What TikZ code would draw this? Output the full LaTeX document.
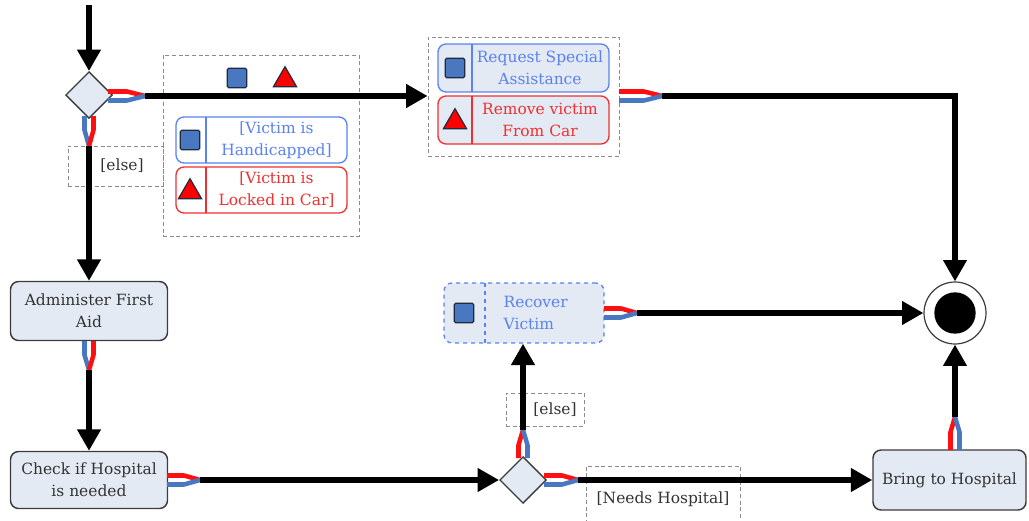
\documentclass[tikz,border=0pt]{standalone}
\usepackage{fontspec}
\setmainfont{DejaVu Serif}
\usetikzlibrary{arrows.meta,shapes.geometric,calc}

\definecolor{actfill}{HTML}{E4EAF4}
\definecolor{actline}{HTML}{3C3C3C}
\definecolor{flowblue}{HTML}{4A78C0}
\definecolor{flowred}{HTML}{FF1010}
\definecolor{guardblue}{HTML}{5A82F0}
\definecolor{guardred}{HTML}{F03030}
\definecolor{dashgray}{HTML}{8C8C8C}
\definecolor{txt}{HTML}{333333}
\definecolor{iconline}{HTML}{1E2A40}

\tikzset{
  txtfont/.style={font=\fontsize{11.6}{16.5}\selectfont},
  act/.style={draw=actline, fill=actfill, line width=1.1pt, rounded corners=6pt,
    txtfont, text=txt, align=center, inner sep=0pt},
  decision/.style={diamond, aspect=1, draw=actline, fill=actfill, line width=1pt,
    minimum size=35pt, inner sep=0pt},
  final/.style={circle, draw=actline, line width=0.9pt, fill=white,
    minimum size=46.5pt, inner sep=0pt},
  grp/.style={draw=dashgray, dash pattern=on 3pt off 2pt, line width=0.7pt, inner sep=0pt},
  guardtxt/.style={txtfont, text=txt},
  gnode/.style={rounded corners=6pt, line width=1pt, inner sep=0pt},
  flow/.style={line width=3.8pt, -{Triangle[length=16pt,width=17pt]}},
  wire/.style={line width=3.4pt, line join=round},
  redw/.style={wire, draw=flowred},
  bluew/.style={wire, draw=flowblue},
  sq/.style={draw=iconline, fill=flowblue, line width=0.9pt, minimum size=14.5pt, inner sep=0pt, rounded corners=1pt},
  tri/.style={regular polygon, regular polygon sides=3, draw=iconline, fill=red,
    line width=0.9pt, minimum size=20pt, inner sep=0pt},
}

\begin{document}
\begin{tikzpicture}[x=0.75pt,y=-0.75pt]
\useasboundingbox (0,0) rectangle (1029,521);

% dashed groups and guard labels
\node[grp, minimum width=196*0.75pt, minimum height=181*0.75pt] (grpA) at (261,145.5) {};
\node[grp, minimum width=191*0.75pt, minimum height=119*0.75pt] (grpB) at (523.5,96.5) {};
\node[grp, minimum width=95*0.75pt, minimum height=40*0.75pt] (elseA) at (115.5,166) {};
\node[guardtxt] at (122,166) {[else]};
\node[grp, minimum width=78*0.75pt, minimum height=33*0.75pt] (elseB) at (545,409.5) {};
\node[guardtxt] at (555,409.5) {[else]};
\node[grp, minimum width=154*0.75pt, minimum height=58*0.75pt] (needs) at (663,495) {};
\node[guardtxt] at (663,499) {[Needs Hospital]};

% token markers on the guarded flow
\node[sq] (mkA) at (237,78) {};
\node[tri] (mkB) at (285,80) {};

% guard conditions
\node[gnode, draw=guardblue, fill=white, minimum width=171*0.75pt, minimum height=46*0.75pt] (gHand) at (261.5,140) {};
\draw[guardblue, line width=1pt] (206,117) -- (206,163);
\node[sq] at (190,140) {};
\node[txtfont, text=guardblue, align=center] at (276.5,140) {[Victim is\\Handicapped]};

\node[gnode, draw=guardred, fill=white, minimum width=171*0.75pt, minimum height=46*0.75pt] (gLock) at (261.5,190) {};
\draw[guardred, line width=1pt] (206,167) -- (206,213);
\node[tri] at (190,192) {};
\node[txtfont, text=guardred, align=center] at (276.5,190) {[Victim is\\Locked in Car]};

% special actions
\node[gnode, draw=guardblue, fill=actfill, minimum width=171*0.75pt, minimum height=48*0.75pt] (aReq) at (523.5,68) {};
\draw[guardblue, line width=1pt] (472,44) -- (472,92);
\node[sq] at (455,68) {};
\node[txtfont, text=guardblue, align=center] at (540,68) {Request Special\\Assistance};

\node[gnode, draw=guardred, fill=actfill, minimum width=171*0.75pt, minimum height=48*0.75pt] (aRem) at (523.5,120) {};
\draw[guardred, line width=1pt] (472,96) -- (472,144);
\node[tri] at (455,122) {};
\node[txtfont, text=guardred, align=center] at (540,120) {Remove victim\\From Car};

% recover victim
\node[gnode, draw=guardblue, fill=actfill, dashed, minimum width=160*0.75pt, minimum height=60*0.75pt] (rec) at (524,313) {};
\draw[guardblue, line width=1pt, dashed] (485,283) -- (485,343);
\node[sq] at (464,313) {};
\node[txtfont, text=guardblue, align=left, anchor=west] at (499,313) {Recover\\Victim};

% main actions
\node[act, minimum width=157*0.75pt, minimum height=59*0.75pt] (aid) at (89,311) {Administer First\\Aid};
\node[act, minimum width=157*0.75pt, minimum height=57*0.75pt] (chk) at (89,480) {Check if Hospital\\is needed};
\node[act, minimum width=153*0.75pt, minimum height=60*0.75pt] (bring) at (949.5,480) {Bring to Hospital};

% decisions and final node
\node[decision] (dA) at (89,95) {};
\node[decision] (dB) at (523,480) {};
\node[final] (fin) at (955,313) {};
\fill[black] (fin.center) circle[radius=15.5pt];

% junctions where the token wires merge
\coordinate (start) at (89,5);
\coordinate (jA) at (145,96);
\coordinate (jB) at (89,146);
\coordinate (jC) at (89,370);
\coordinate (jD) at (200,480);
\coordinate (jE) at (523,430);
\coordinate (jF) at (578,480);
\coordinate (jG) at (955,417);
\coordinate (jH) at (637,313);
\coordinate (jI) at (662,96);

% token wires
\draw[redw]  (108,91.5) -- (127,91.5) -- (jA);
\draw[bluew] (108,100.5) -- (127,100.5) -- (jA);
\draw[bluew] (84.5,116) -- (84.5,130) -- (jB);
\draw[redw]  (93.5,116) -- (93.5,130) -- (jB);
\draw[bluew] (84.5,341) -- (84.5,355) -- (jC);
\draw[redw]  (93.5,341) -- (93.5,355) -- (jC);
\draw[redw]  (167,475.5) -- (184,475.5) -- (jD);
\draw[bluew] (167,484.5) -- (184,484.5) -- (jD);
\draw[redw]  (518.5,458) -- (518.5,445) -- (jE);
\draw[bluew] (527.5,458) -- (527.5,445) -- (jE);
\draw[redw]  (544,475.5) -- (562,475.5) -- (jF);
\draw[bluew] (544,484.5) -- (562,484.5) -- (jF);
\draw[redw]  (950.5,450) -- (950.5,432) -- (jG);
\draw[bluew] (959.5,450) -- (959.5,432) -- (jG);
\draw[redw]  (604,308.5) -- (621,308.5) -- (jH);
\draw[bluew] (604,317.5) -- (621,317.5) -- (jH);
\draw[redw]  (619,91.5) -- (644,91.5) -- (jI);
\draw[bluew] (619,100.5) -- (644,100.5) -- (jI);

% control flows
\draw[flow] (start) -- (dA.north);
\draw[flow] (jA) -- (grpB.west |- jA);
\draw[flow] (jB) -- (aid.north);
\draw[flow] (jC) -- (chk.north);
\draw[flow] (jD) -- (dB.west);
\draw[flow] (jE) -- (jE |- rec.south);
\draw[flow] (jF) -- (bring.west |- jF);
\draw[flow] (jG) -- (jG |- fin.south);
\draw[flow] (jH) -- (fin.west);
\draw[flow] (jI) -| (fin.north);
\end{tikzpicture}
\end{document}
